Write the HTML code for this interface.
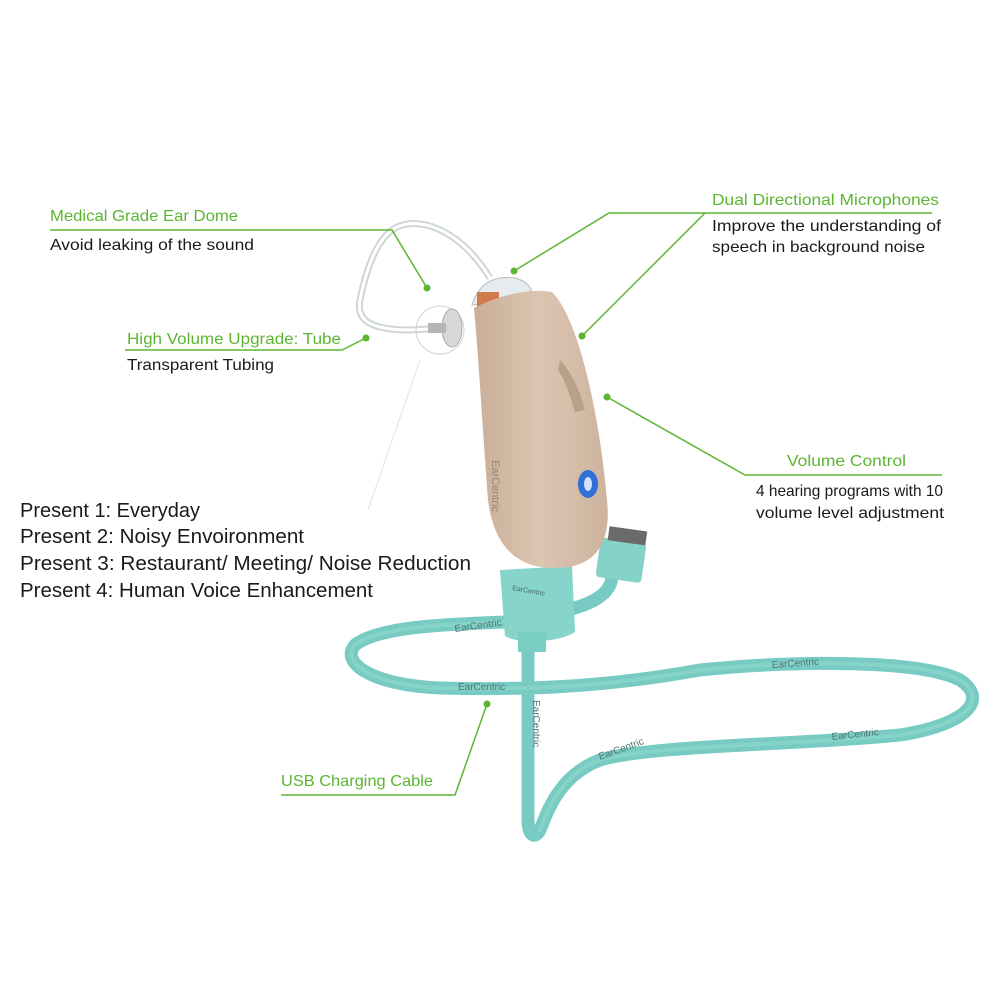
<!DOCTYPE html>
<html><head><meta charset="utf-8"><style>
html,body{margin:0;padding:0;background:#fff;}
svg{display:block;}
text{font-family:"Liberation Sans",sans-serif;}
</style></head><body>
<svg width="1000" height="1000" viewBox="0 0 1000 1000" xmlns="http://www.w3.org/2000/svg">
<defs>
<linearGradient id="body" x1="0" y1="0" x2="1" y2="0">
<stop offset="0" stop-color="#c9ae98"/><stop offset="0.5" stop-color="#dcc5b1"/><stop offset="1" stop-color="#cdb39e"/>
</linearGradient>
</defs>
<path d="M505,622 C460,624 380,625 355,645 C340,662 370,685 440,688 C520,690 600,688 700,670 C800,660 920,660 960,680 C990,700 965,725 900,735 C800,745 650,745 600,760 C560,775 548,810 540,830 C535,840 528,835 528,820 L528,640" fill="none" stroke="#78cbc2" stroke-width="13" stroke-linecap="round"/>
<path d="M505,622 C460,624 380,625 355,645 C340,662 370,685 440,688 C520,690 600,688 700,670 C800,660 920,660 960,680 C990,700 965,725 900,735 C800,745 650,745 600,760 C560,775 548,810 540,830" fill="none" stroke="#8fd8cf" stroke-width="4" stroke-linecap="round" opacity="0.6"/>
<path d="M560,612 C590,605 612,595 612,575" fill="none" stroke="#78cbc2" stroke-width="13"/>
<rect x="598" y="540" width="46" height="40" rx="4" fill="#85d2c8" transform="rotate(8 620 560)"/>
<rect x="605" y="528" width="38" height="14" fill="#6a6a6a" transform="rotate(8 620 560)"/>
<path d="M500,570 L572,566 L575,632 C560,642 520,645 505,636 Z" fill="#86d4ca"/>
<rect x="518" y="632" width="28" height="20" fill="#7acdc3"/>
<text x="512" y="590" font-size="7" fill="#4a6a66" transform="rotate(10 512 590)">EarCentric</text>
<text x="455" y="632" font-size="10" fill="#4e7772" transform="rotate(-8 455 632)">EarCentric</text>
<text x="458" y="690" font-size="10" fill="#4e7772">EarCentric</text>
<text x="772" y="668" font-size="10" fill="#4e7772" transform="rotate(-4 772 668)">EarCentric</text>
<text x="832" y="740" font-size="10" fill="#4e7772" transform="rotate(-6 832 740)">EarCentric</text>
<text x="600" y="760" font-size="10" fill="#4e7772" transform="rotate(-20 600 760)">EarCentric</text>
<text x="533" y="700" font-size="10" fill="#4e7772" transform="rotate(90 533 700)">EarCentric</text>
<path d="M490,278 C460,230 420,215 395,228 C375,240 365,275 360,300 C356,320 370,330 410,330 L445,328" fill="none" stroke="#cfd6da" stroke-width="7"/>
<path d="M490,278 C460,230 420,215 395,228 C375,240 365,275 360,300 C356,320 370,330 410,330 L445,328" fill="none" stroke="#fff" stroke-width="3"/>
<circle cx="440" cy="330" r="24" fill="none" stroke="#d2d2d2" stroke-width="1"/>
<ellipse cx="452" cy="328" rx="10" ry="19" fill="#d8d8d8" stroke="#a9a9a9"/>
<rect x="428" y="323" width="18" height="10" fill="#b5b5b5"/>
<line x1="420" y1="360" x2="368" y2="510" stroke="#e2e2e2" stroke-width="1"/>
<path d="M472,305 C478,285 492,275 515,278 C530,282 535,292 530,300 Z" fill="#e5ebee" stroke="#bbb"/>
<rect x="477" y="292" width="22" height="18" fill="#d07a4e"/>
<path d="M474,308 C500,295 530,288 552,292 C580,320 600,420 607,500 C612,548 592,568 555,568 C515,568 494,545 488,500 C482,420 478,350 474,308 Z" fill="url(#body)"/>
<path d="M560,360 C570,370 580,390 585,410 L575,412 C570,395 565,380 558,370 Z" fill="#b9a08b"/>
<ellipse cx="588" cy="484" rx="10" ry="14" fill="#2f6fd6"/>
<ellipse cx="588" cy="484" rx="4" ry="7" fill="#cfe3ff"/>
<text x="492" y="460" font-size="11" fill="#9a8470" transform="rotate(90 492 460)">EarCentric</text>
<g stroke="#5cb531" stroke-width="1.5" fill="none">
<polyline points="50,230 392,230 427,288"/>
<polyline points="932,213 609,213 514,271"/>
<line x1="705" y1="213" x2="582" y2="336"/>
<polyline points="125,350 342,350 366,338"/>
<polyline points="942,475 745,475 607,397"/>
<polyline points="281,795 455,795 487,704"/>
</g>
<g fill="#5cb531">
<circle cx="427" cy="288" r="3.5"/><circle cx="514" cy="271" r="3.5"/><circle cx="582" cy="336" r="3.5"/>
<circle cx="366" cy="338" r="3.5"/><circle cx="607" cy="397" r="3.5"/><circle cx="487" cy="704" r="3.5"/>
</g>
<g font-size="16" fill="#5cb531">
<text x="50" y="221" textLength="188" lengthAdjust="spacingAndGlyphs">Medical Grade Ear Dome</text>
<text x="712" y="205" textLength="227" lengthAdjust="spacingAndGlyphs">Dual Directional Microphones</text>
<text x="127" y="344" textLength="214" lengthAdjust="spacingAndGlyphs">High Volume Upgrade: Tube</text>
<text x="787" y="466" textLength="119" lengthAdjust="spacingAndGlyphs">Volume Control</text>
<text x="281" y="786" textLength="152" lengthAdjust="spacingAndGlyphs">USB Charging Cable</text>
</g>
<g font-size="16" fill="#1a1a1a">
<text x="50" y="250" textLength="204" lengthAdjust="spacingAndGlyphs">Avoid leaking of the sound</text>
<text x="712" y="231" textLength="229" lengthAdjust="spacingAndGlyphs">Improve the understanding of</text>
<text x="712" y="252" textLength="213" lengthAdjust="spacingAndGlyphs">speech in background noise</text>
<text x="127" y="370" textLength="147" lengthAdjust="spacingAndGlyphs">Transparent Tubing</text>
<text x="756" y="496" textLength="187" lengthAdjust="spacingAndGlyphs">4 hearing programs with 10</text>
<text x="756" y="518" textLength="188" lengthAdjust="spacingAndGlyphs">volume level adjustment</text>
</g>
<g font-size="20" fill="#1a1a1a">
<text x="20" y="517" textLength="180" lengthAdjust="spacingAndGlyphs">Present 1: Everyday</text>
<text x="20" y="543" textLength="284" lengthAdjust="spacingAndGlyphs">Present 2: Noisy Envoironment</text>
<text x="20" y="570" textLength="451" lengthAdjust="spacingAndGlyphs">Present 3: Restaurant/ Meeting/ Noise Reduction</text>
<text x="20" y="597" textLength="353" lengthAdjust="spacingAndGlyphs">Present 4: Human Voice Enhancement</text>
</g>
</svg>
</body></html>
